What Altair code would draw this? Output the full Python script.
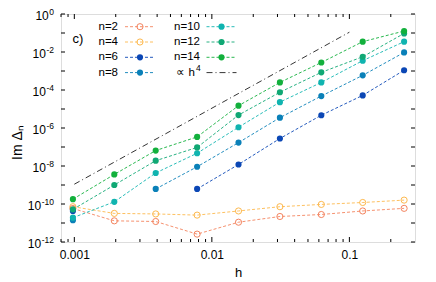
import altair as alt
import pandas as pd

FONT = "Liberation Sans"

# ---- data ----
h_vals = [0.0009765625, 0.001953125, 0.00390625, 0.0078125, 0.015625,
          0.03125, 0.0625, 0.125, 0.25]
series_names = ["n=2", "n=4", "n=6", "n=8", "n=10", "n=12", "n=14"]
series_colors = ["#f4845f", "#fdb94e", "#0b47b5", "#0a80b8", "#10b4b0", "#10a874", "#12b03c"]
series_open = [True, True, False, False, False, False, False]

im_n2 = [5.8e-11, 1.3e-11, 1.2e-11, 2.6e-12, 1.1e-11, 2.2e-11, 2.8e-11, 4.3e-11, 5.9e-11]
im_n4 = [7.2e-11, 3.2e-11, 3.0e-11, 2.6e-11, 4.3e-11, 7.2e-11, 9.5e-11, 1.2e-10, 1.6e-10]
im_n6 = [4.3e-11, None, None, 6.2e-10, 1.2e-8, 2.8e-7, 4.7e-6, 5.2e-5, 1.1e-3]
im_n8 = [1.4e-11, None, 6.2e-10, 9.1e-9, 1.7e-7, 3.5e-6, 4.8e-5, 5.9e-4, 9.5e-3]
im_n10 = [1.9e-11, 1.3e-10, 4.3e-9, 4.7e-8, 1.1e-6, 2.3e-5, 2.5e-4, 3.5e-3, 3.5e-2]
im_n12 = [5.2e-11, 1.0e-9, 1.9e-8, 9.5e-8, 4.8e-6, 7.6e-5, 8.5e-4, 5.6e-3, 9.5e-2]
im_n14 = [1.8e-10, 3.6e-9, 6.5e-8, 3.4e-7, 1.5e-5, 2.5e-4, 2.8e-3, 3.5e-2, 1.27e-1]
series_values = [im_n2, im_n4, im_n6, im_n8, im_n10, im_n12, im_n14]

# proportional-to-h^4 guide line (end points)
guide_h = [0.001, 0.1]
guide_v = [1.1e-9, 1.1e-1]

x_major = [0.001, 0.01, 0.1]
y_exponents = [0, -2, -4, -6, -8, -10, -12]

# ---- build tables ----
rows = []
for name, vals, is_open in zip(series_names, series_values, series_open):
    seg = 0
    for hv, v in zip(h_vals, vals):
        if v is None:
            seg += 1
            continue
        rows.append({"h": hv, "v": v, "n": name, "seg": f"{name}_{seg}",
                     "open": is_open})
df = pd.DataFrame(rows)
guide_df = pd.DataFrame({"h": guide_h, "v": guide_v})

W, H = 354, 228
XDOM = [0.0008, 0.3]
YDOM = [1e-12, 1.0]
xs = alt.Scale(type="log", domain=XDOM, nice=False)
ys = alt.Scale(type="log", domain=YDOM, nice=False)
color_scale = alt.Scale(domain=series_names, range=series_colors)

xenc = alt.X("h:Q", scale=xs,
             axis=alt.Axis(values=x_major, grid=False, ticks=False, domain=False,
                           labelExpr="datum.value < 0.005 ? '0.001' : datum.value < 0.05 ? '0.01' : '0.1'",
                           labelFont=FONT, labelFontSize=12, labelPadding=7,
                           labelColor="black",
                           title="h", titleFont=FONT, titleFontSize=13,
                           titleFontWeight="normal", titlePadding=6, titleColor="black"))
yenc = alt.Y("v:Q", scale=ys,
             axis=alt.Axis(grid=False, ticks=False, domain=False, labels=False,
                           title="Im Δₙ", titleFont=FONT, titleFontSize=14,
                           titleFontWeight="normal", titlePadding=37, titleColor="black",
                           titleY=H / 2 + 14))

guide = alt.Chart(guide_df).mark_line(color="black", strokeWidth=0.8,
                                      strokeDash=[6, 3, 1, 3]).encode(x=xenc, y=yenc)

lines = alt.Chart(df).mark_line(strokeWidth=0.9, strokeDash=[3, 2]).encode(
    x=alt.X("h:Q", scale=xs), y=alt.Y("v:Q", scale=ys),
    color=alt.Color("n:N", scale=color_scale, legend=None),
    detail="seg:N")

filled_pts = alt.Chart(df[~df["open"]]).mark_point(filled=True, size=38, opacity=1).encode(
    x=alt.X("h:Q", scale=xs), y=alt.Y("v:Q", scale=ys),
    color=alt.Color("n:N", scale=color_scale, legend=None))
open_pts = alt.Chart(df[df["open"]]).mark_point(filled=False, size=38, strokeWidth=1,
                                               opacity=1).encode(
    x=alt.X("h:Q", scale=xs), y=alt.Y("v:Q", scale=ys),
    color=alt.Color("n:N", scale=color_scale, legend=None))

# ---- inward ticks on all four sides ----
x_ticks = []
for e in (-4, -3, -2, -1):
    for k in range(1, 10):
        t = k * 10.0 ** e
        if XDOM[0] <= t <= XDOM[1]:
            x_ticks.append({"t": t, "len": 5 if k == 1 else 3})
xt_df = pd.DataFrame(x_ticks)
yt_df = pd.DataFrame({"t": [10.0 ** e for e in range(0, -13, -1)]})

tick_layers = []
for big in (True, False):
    sub = xt_df[(xt_df["len"] == 5) == big]
    L = 5 if big else 3
    tick_layers.append(alt.Chart(sub).mark_rule(color="black", strokeWidth=1).encode(
        x=alt.X("t:Q", scale=xs), y=alt.value(H), y2=alt.value(H - L)))
    tick_layers.append(alt.Chart(sub).mark_rule(color="black", strokeWidth=1).encode(
        x=alt.X("t:Q", scale=xs), y=alt.value(0), y2=alt.value(L)))
tick_layers.append(alt.Chart(yt_df).mark_rule(color="black", strokeWidth=1).encode(
    y=alt.Y("t:Q", scale=ys), x=alt.value(0), x2=alt.value(4)))
tick_layers.append(alt.Chart(yt_df).mark_rule(color="black", strokeWidth=1).encode(
    y=alt.Y("t:Q", scale=ys), x=alt.value(W), x2=alt.value(W - 4)))

# ---- y tick labels 10^e ----
SUP = 8.5
def sup_width(s):
    return sum(0.333 * SUP if c == "-" else 0.556 * SUP for c in s)
ylab_df = pd.DataFrame({
    "t": [10.0 ** e for e in y_exponents],
    "exp": [str(e) for e in y_exponents],
})
ylab_df["px_exp"] = -7.0
ylab_df["px_base"] = [-7.0 - sup_width(s) - 0.5 for s in ylab_df["exp"]]
y_base = alt.Chart(ylab_df).mark_text(font=FONT, fontSize=12, align="right",
                                      baseline="middle", dy=2, color="black").encode(
    y=alt.Y("t:Q", scale=ys), x=alt.X("px_base:Q", scale=None), text=alt.value("10"))
y_exp = alt.Chart(ylab_df).mark_text(font=FONT, fontSize=SUP, align="right",
                                     baseline="middle", dy=-2.5, color="black").encode(
    y=alt.Y("t:Q", scale=ys), x=alt.X("px_exp:Q", scale=None), text="exp:N")

# ---- key (two columns, gnuplot style) ----
key_rows = []
for i, (name, is_open) in enumerate(zip(series_names, series_open)):
    col, r = (0, i) if i < 4 else (1, i - 4)
    tx = 57 if col == 0 else 139
    cx = 79 if col == 0 else 160.5
    key_rows.append({"n": name, "open": is_open, "tx": tx, "cx": cx,
                     "x1": cx - 15, "x2": cx + 15, "py": 12.7 + 15.3 * r})
key_df = pd.DataFrame(key_rows)
key_text = alt.Chart(key_df).mark_text(font=FONT, fontSize=11.5, align="right",
                                       baseline="middle", color="black").encode(
    x=alt.X("tx:Q", scale=None), y=alt.Y("py:Q", scale=None), text="n:N")
key_line = alt.Chart(key_df).mark_rule(strokeWidth=0.9, strokeDash=[3, 2]).encode(
    x=alt.X("x1:Q", scale=None), x2="x2:Q", y=alt.Y("py:Q", scale=None),
    color=alt.Color("n:N", scale=color_scale, legend=None))
key_fill = alt.Chart(key_df[~key_df["open"]]).mark_point(filled=True, size=38, opacity=1).encode(
    x=alt.X("cx:Q", scale=None), y=alt.Y("py:Q", scale=None),
    color=alt.Color("n:N", scale=color_scale, legend=None))
key_open = alt.Chart(key_df[key_df["open"]]).mark_point(filled=False, size=38,
                                                       strokeWidth=1, opacity=1).encode(
    x=alt.X("cx:Q", scale=None), y=alt.Y("py:Q", scale=None),
    color=alt.Color("n:N", scale=color_scale, legend=None))
gy = 12.7 + 15.3 * 3
key_guide_txt = alt.Chart(guide_df.head(1)).mark_text(
    font=FONT, fontSize=11.5, align="right", baseline="middle", color="black").encode(
    x=alt.value(134), y=alt.value(gy), text=alt.value("∝ h"))
key_guide_sup = alt.Chart(guide_df.head(1)).mark_text(
    font=FONT, fontSize=SUP, align="left", baseline="middle", dy=-5, color="black").encode(
    x=alt.value(135), y=alt.value(gy), text=alt.value("4"))
key_guide_line = alt.Chart(guide_df.head(1)).mark_rule(
    color="black", strokeWidth=0.8, strokeDash=[6, 3, 1, 3]).encode(
    x=alt.value(145.5), x2=alt.value(175.5), y=alt.value(gy))

panel = alt.Chart(guide_df.head(1)).mark_text(
    font=FONT, fontSize=13, align="center", baseline="middle", color="black").encode(
    x=alt.value(17), y=alt.value(25), text=alt.value("c)"))

chart = alt.layer(
    guide, lines, open_pts, filled_pts, *tick_layers, y_base, y_exp,
    key_line, key_open, key_fill, key_text, key_guide_line, key_guide_txt, key_guide_sup,
    panel
).properties(
    width=W, height=H,
    autosize=alt.AutoSizeParams(type="none"),
    padding={"left": 53, "top": 6, "right": 13, "bottom": 36},
).configure_view(
    stroke="black", strokeWidth=1.2
).configure(background="white")

chart.save("out.html", embed_options={"renderer": "svg", "actions": False})
